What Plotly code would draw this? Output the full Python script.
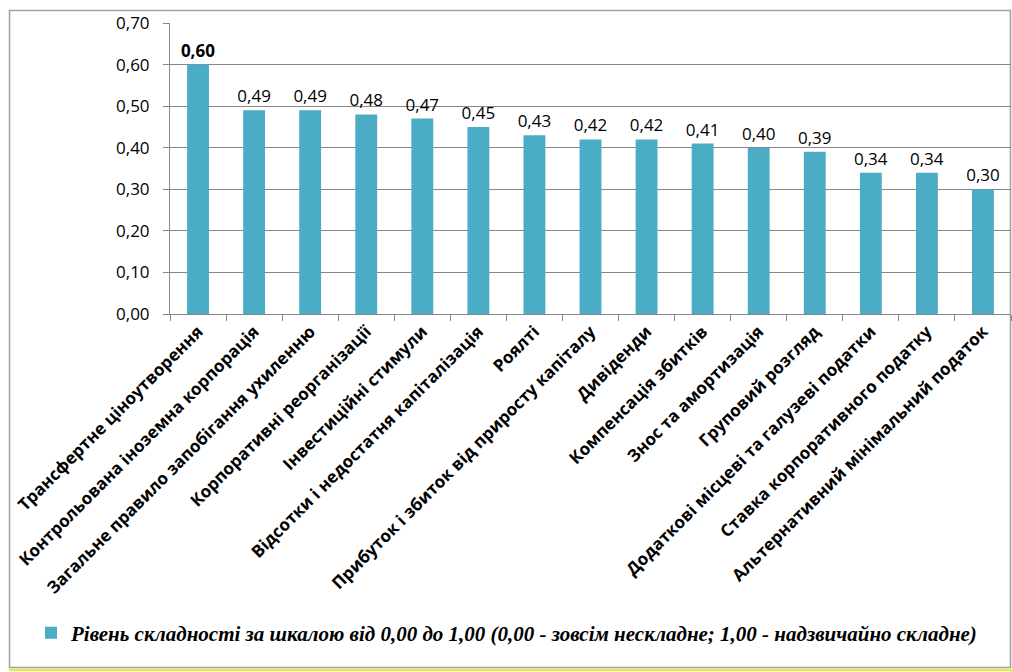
import plotly.graph_objects as go

categories = [
    "Трансфертне ціноутворення",
    "Контрольована іноземна корпорація",
    "Загальне правило запобігання ухиленню",
    "Корпоративні реорганізації",
    "Інвестиційні стимули",
    "Відсотки і недостатня капіталізація",
    "Роялті",
    "Прибуток і збиток від приросту капіталу",
    "Дивіденди",
    "Компенсація збитків",
    "Знос та амортизація",
    "Груповий розгляд",
    "Додаткові місцеві та галузеві податки",
    "Ставка корпоративного податку",
    "Альтернативний мінімальний податок",
]
values = [0.60, 0.49, 0.49, 0.48, 0.47, 0.45, 0.43, 0.42, 0.42, 0.41, 0.40, 0.39, 0.34, 0.34, 0.30]
series_name = "Рівень складності за шкалою від 0,00 до 1,00 (0,00 - зовсім нескладне; 1,00 - надзвичайно складне)"

labels = []
for i, v in enumerate(values):
    s = f"{v:.2f}".replace(".", ",")
    labels.append(f"<b>{s}</b>" if i == 0 else s)

W, H = 1012, 672
L, R, T, B = 170, 1, 23, 358
pw, ph = W - L - R, H - T - B

def px(x):
    return (x - L) / pw

def py(y):
    return (H - B - y) / ph

fig = go.Figure()
fig.add_trace(go.Bar(
    x=categories, y=values, name=series_name,
    marker=dict(color="#4BACC6", line=dict(width=0)),
    width=0.39,
    text=labels, textposition="outside", cliponaxis=False,
    constraintext="none",
    textfont=dict(family="Open Sans", size=17, color="#000000"),
    showlegend=True,
))

fig.update_layout(
    width=W, height=H,
    margin=dict(l=L, r=R, t=T, b=B, pad=0),
    paper_bgcolor="white", plot_bgcolor="white",
    separators=", ",
    bargap=0.61,
    showlegend=True,
    legend=dict(
        x=px(31), y=py(633), xanchor="left", yanchor="middle",
        font=dict(family="Liberation Serif", size=21, color="#000000", weight="bold", style="italic"),
        bgcolor="rgba(0,0,0,0)", itemwidth=30, tracegroupgap=0,
    ),
    xaxis=dict(
        tickangle=-45, tickson="boundaries", ticks="outside", ticklen=6,
        tickcolor="#868686", showline=True, linecolor="#868686", linewidth=1,
        tickfont=dict(family="Open Sans", size=17, color="#000000", weight="bold"),
        showgrid=False,
    ),
    yaxis=dict(
        range=[0, 0.7], dtick=0.1, tickformat=".2f",
        ticks="outside", ticklen=6, tickcolor="#868686",
        showline=True, linecolor="#868686", linewidth=1,
        showgrid=True, gridcolor="#868686", gridwidth=1,
        tickfont=dict(family="Open Sans", size=17, color="#000000"),
        zeroline=False, ticklabelstandoff=10,
    ),
    shapes=[
        dict(type="rect", xref="paper", yref="paper",
             x0=px(9.5), x1=px(1010.5), y0=py(667.5), y1=py(10.5),
             line=dict(color="#A0A0A0", width=1.5), layer="below"),
        dict(type="line", xref="paper", yref="paper",
             x0=px(9), x1=px(1012), y0=py(670), y1=py(670),
             line=dict(color="#E8E84A", width=2.5)),
    ],
)

fig.write_html("out.html")
